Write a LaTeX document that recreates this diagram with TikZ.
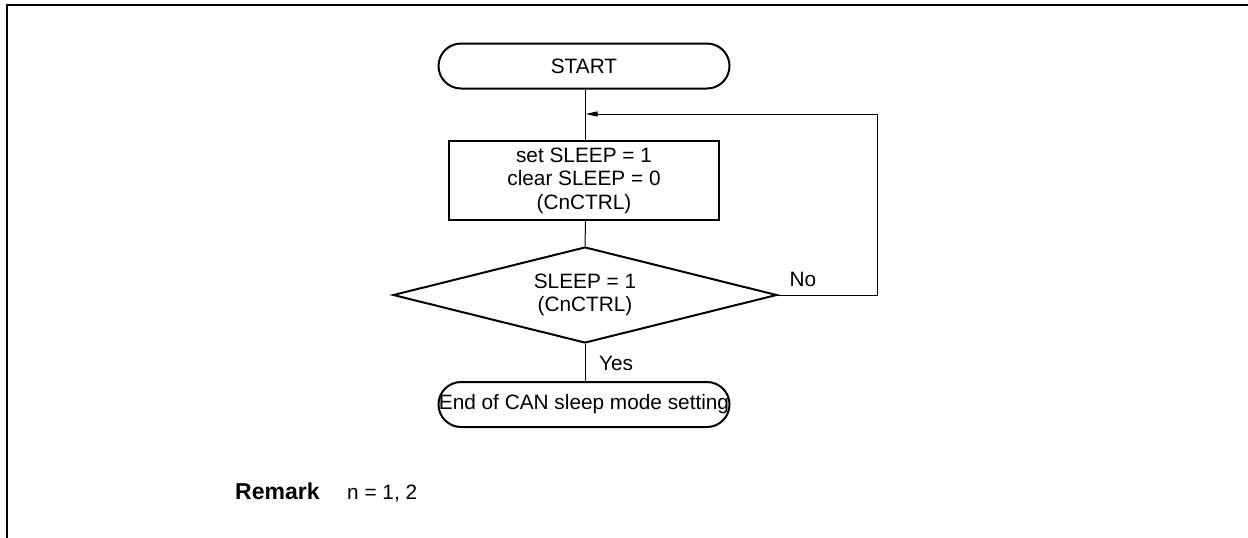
\documentclass[tikz,border=0pt]{standalone}
\usepackage{fontspec}
\setmainfont{Liberation Sans}
\usetikzlibrary{shapes.geometric,arrows.meta}
\begin{document}
\begin{tikzpicture}[x=1pt,y=-1pt,
  every node/.style={font=\fontsize{20.8}{23.5}\selectfont},
  term/.style={draw,line width=2pt,rounded corners=22.5pt,minimum width=291pt,minimum height=45pt,inner sep=0pt,align=center},
  proc/.style={draw,line width=2pt,minimum width=270pt,minimum height=79pt,inner sep=0pt,align=center},
  dec/.style={draw,diamond,aspect=4,line width=2pt,minimum width=384pt,minimum height=96pt,inner sep=0pt,align=center},
  conn/.style={line width=1pt},
  lbl/.style={inner sep=0pt,anchor=center}
]
\useasboundingbox (0,0) rectangle (1248,538);
\draw[line width=2pt] (7,538) -- (7,5) -- (1248,5);
\node[term] (start) at (584,66) {START};
\node[proc] (set) at (584,180.5) {set SLEEP = 1\\clear SLEEP = 0\\(CnCTRL)};
\node[dec] (chk) at (585,295) {SLEEP = 1\\(CnCTRL)};
\node[term] (end) at (584,404.5) {End of CAN sleep mode setting};
\coordinate (merge) at (585.5,114);
\coordinate (rb) at (877,295);
\coordinate (rt) at (877,114);
\draw[conn] (start.south -| merge) -- (set.north -| merge);
\draw[conn] (set.south -| merge) -- (chk.north);
\draw[conn] (chk.south) -- (end.north -| chk.south);
\draw[conn,-{Triangle[length=12pt,width=5pt]}] (chk.east) -- (rb) -- (rt) -- (merge);
\node[lbl] (no) at (803,279) {No};
\node[lbl] (yes) at (616,363) {Yes};
\node[lbl,anchor=base west,font=\fontsize{23}{26}\selectfont\bfseries] (remark) at (235,499) {Remark};
\node[lbl,anchor=base west] (rmk) at (347,499) {n = 1, 2};
\end{tikzpicture}
\end{document}
